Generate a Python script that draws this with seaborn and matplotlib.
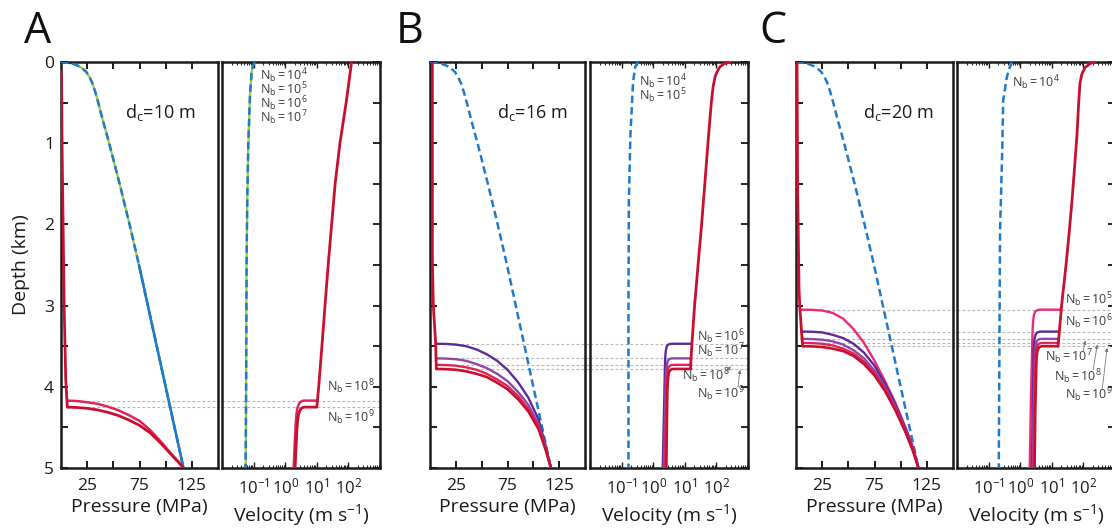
import numpy as np
import pandas as pd
import matplotlib
matplotlib.use("Agg")
import matplotlib.pyplot as plt
from matplotlib.ticker import NullLocator, FixedLocator, LogLocator
import seaborn as sns

# ---------------------------------------------------------------- data
# Pressure (MPa) vs depth (km) of the runs that do not fragment (low N_b)
blue_depth = [0, 0.005, 0.012, 0.025, 0.045, 0.075, 0.12, 0.18, 0.26, 0.38, 0.52, 0.72,
              1.0, 1.5, 2.0, 2.5, 3.0, 3.5, 4.0, 4.5, 5.0]
blue_pressure = [0, 4, 8, 12, 16, 20, 24, 27, 30, 33, 36, 40,
                 46, 56, 65.5, 74.5, 83, 91.5, 100, 108.5, 117]

# Ascent velocity (m/s) of the non-fragmenting runs
blue_vel_depth_a = [0, 0.05, 0.12, 0.4, 1.0, 1.7, 2.5, 4.0, 5.0]
blue_vel_a = [0.11, 0.095, 0.087, 0.077, 0.068, 0.063, 0.060, 0.058, 0.056]
blue_vel_depth_b = [0, 0.06, 0.25, 0.9, 1.7, 3.0, 5.0]
blue_vel_b = [0.33, 0.27, 0.23, 0.19, 0.17, 0.165, 0.165]
blue_vel_depth_c = [0, 0.08, 0.18, 0.47, 1.08, 2.1, 3.5, 5.0]
blue_vel_c = [0.55, 0.45, 0.38, 0.29, 0.27, 0.23, 0.22, 0.21]

# Shallow (above fragmentation) pressure shared by the fragmenting runs
red_p_depth_a = [0.12, 1, 2, 3, 3.9, 4.25]
red_p_a = [0.5, 1, 2, 3, 4.5, 6]
red_p_depth_b = [0, 1, 2.44, 3.0, 3.47, 3.78]
red_p_b = [2.3, 2.3, 2.3, 3.2, 5.5, 6.1]
red_p_depth_c = [0, 1.5, 2.8, 3.05, 3.5]
red_p_c = [1, 1.5, 2.9, 3.8, 6.3]

# Shallow (above fragmentation) velocity shared by the fragmenting runs
red_v_depth_a = [0, 0.5, 1, 1.5, 2, 2.5, 3, 3.5, 4, 4.25]
red_v_a = [126, 85, 54, 38, 29.5, 22.9, 18.2, 14.5, 11.5, 10]
red_v_depth_b = [0, 0.02, 0.06, 0.12, 0.18, 0.3, 0.5, 1.0, 1.5, 2.0, 2.5, 3.0, 3.5, 3.78]
red_v_b = [282, 178, 129, 105, 91, 79, 69, 54, 43, 34, 26.3, 20.4, 16.6, 15.1]
red_v_depth_c = [0, 0.02, 0.07, 0.15, 0.26, 0.5, 0.88, 1.3, 1.7, 2.1, 2.5, 3.0, 3.5]
red_v_c = [224, 162, 112, 89, 78, 71, 63, 52.5, 43.7, 35.5, 28.2, 20.4, 15.8]

# Deep (below fragmentation) pressure branches; pressures sampled on a common set
p_grid = [15, 25, 35, 45, 55, 65, 75, 85, 95, 105, 112, 117]

# panel A (d_c = 10 m): start pressure, then depths on p_grid
a_p0_8, a_d8 = 5.9, [4.17, 4.175, 4.19, 4.21, 4.245, 4.29, 4.35, 4.42, 4.53, 4.67, 4.82, 4.92, 5.0]
a_p0_9, a_d9 = 6.0, [4.25, 4.255, 4.265, 4.285, 4.315, 4.355, 4.41, 4.475, 4.565, 4.69, 4.83, 4.925, 5.0]

# panel B (d_c = 16 m)
b_p0_6, b_d6 = 5.5, [3.47, 3.472, 3.48, 3.50, 3.54, 3.60, 3.68, 3.79, 3.94, 4.13, 4.40, 4.73, 5.0]
b_p0_7, b_d7 = 5.8, [3.65, 3.652, 3.66, 3.68, 3.72, 3.77, 3.84, 3.93, 4.06, 4.22, 4.46, 4.75, 5.0]
b_p0_8, b_d8 = 6.0, [3.73, 3.732, 3.74, 3.76, 3.79, 3.84, 3.91, 3.99, 4.11, 4.27, 4.49, 4.76, 5.0]
b_p0_9, b_d9 = 6.1, [3.78, 3.782, 3.79, 3.81, 3.84, 3.88, 3.95, 4.03, 4.15, 4.30, 4.52, 4.78, 5.0]

# panel C (d_c = 20 m)
c_p0_5, c_d5 = 3.8, [3.05, 3.052, 3.06, 3.09, 3.16, 3.29, 3.46, 3.68, 3.93, 4.20, 4.51, 4.75, 5.0]
c_p0_6, c_d6 = 4.8, [3.32, 3.322, 3.33, 3.36, 3.40, 3.47, 3.58, 3.74, 3.96, 4.22, 4.53, 4.77, 5.0]
c_p0_7, c_d7 = 5.5, [3.41, 3.412, 3.42, 3.44, 3.48, 3.55, 3.65, 3.80, 4.00, 4.25, 4.55, 4.78, 5.0]
c_p0_8, c_d8 = 6.0, [3.46, 3.462, 3.47, 3.49, 3.53, 3.59, 3.69, 3.83, 4.03, 4.27, 4.56, 4.79, 5.0]
c_p0_9, c_d9 = 6.3, [3.50, 3.502, 3.51, 3.53, 3.56, 3.62, 3.72, 3.86, 4.05, 4.29, 4.57, 4.80, 5.0]

# Deep velocity branches (m/s) and their depths (km)
a_v8 = [10, 4.2, 3.6, 3.2, 2.9, 2.65, 2.45, 2.3, 2.15, 2.0, 1.85]
a_vd8 = [4.17, 4.17, 4.172, 4.18, 4.195, 4.22, 4.26, 4.32, 4.45, 4.7, 5.0]
a_v9 = [9.5, 4.4, 3.8, 3.4, 3.1, 2.85, 2.65, 2.5, 2.35, 2.2, 2.05]
a_vd9 = [4.25, 4.25, 4.252, 4.26, 4.275, 4.30, 4.34, 4.40, 4.52, 4.75, 5.0]

b_v6 = [16.7, 4.0, 3.4, 3.0, 2.75, 2.6, 2.5, 2.42, 2.35, 2.2, 2.0]
b_vd6 = [3.47, 3.47, 3.472, 3.48, 3.495, 3.52, 3.56, 3.62, 3.75, 4.3, 5.0]
b_v7 = [16.2, 4.2, 3.6, 3.2, 2.95, 2.8, 2.7, 2.6, 2.5, 2.35, 2.15]
b_vd7 = [3.65, 3.65, 3.652, 3.66, 3.675, 3.70, 3.74, 3.80, 3.93, 4.4, 5.0]
b_v8 = [16.0, 4.4, 3.8, 3.4, 3.1, 2.95, 2.85, 2.75, 2.65, 2.5, 2.35]
b_vd8 = [3.73, 3.73, 3.732, 3.74, 3.755, 3.78, 3.82, 3.88, 4.01, 4.45, 5.0]
b_v9 = [15.8, 4.6, 4.0, 3.6, 3.3, 3.1, 3.0, 2.9, 2.8, 2.7, 2.6]
b_vd9 = [3.78, 3.78, 3.782, 3.79, 3.805, 3.83, 3.87, 3.93, 4.06, 4.5, 5.0]

c_v5 = [20, 4.4, 3.8, 3.3, 3.0, 2.8, 2.65, 2.55, 2.45, 2.2, 2.0]
c_vd5 = [3.05, 3.05, 3.052, 3.06, 3.075, 3.10, 3.14, 3.20, 3.33, 4.1, 5.0]
c_v6 = [17.5, 4.6, 4.0, 3.5, 3.2, 3.0, 2.85, 2.75, 2.65, 2.5, 2.35]
c_vd6 = [3.32, 3.32, 3.322, 3.33, 3.345, 3.37, 3.41, 3.47, 3.60, 4.3, 5.0]
c_v7 = [16.6, 4.8, 4.2, 3.7, 3.4, 3.2, 3.05, 2.95, 2.85, 2.65, 2.5]
c_vd7 = [3.41, 3.41, 3.412, 3.42, 3.435, 3.46, 3.50, 3.56, 3.69, 4.3, 5.0]
c_v8 = [16.1, 5.0, 4.4, 3.9, 3.6, 3.4, 3.25, 3.1, 3.0, 2.8, 2.65]
c_vd8 = [3.46, 3.46, 3.462, 3.47, 3.485, 3.51, 3.55, 3.61, 3.74, 4.3, 5.0]
c_v9 = [15.8, 5.2, 4.6, 4.1, 3.8, 3.55, 3.4, 3.3, 3.2, 3.0, 2.85]
c_vd9 = [3.50, 3.50, 3.502, 3.51, 3.525, 3.55, 3.59, 3.65, 3.78, 4.3, 5.0]

panel_letters = ["A", "B", "C"]
critical_sizes = ["10", "16", "20"]
pressure_ticks = [25, 50, 75, 100, 125]
pressure_ticklabels = ["25", "", "75", "", "125"]
velocity_ticks = [1e-2, 1e-1, 1e0, 1e1, 1e2, 1e3]
velocity_ticklabels = ["", r"$\mathregular{10^{-1}}$", r"$\mathregular{10^{0}}$",
                       r"$\mathregular{10^{1}}$", r"$\mathregular{10^{2}}$", ""]
depth_ticks = [0, 0.5, 1, 1.5, 2, 2.5, 3, 3.5, 4, 4.5, 5]
depth_ticklabels = ["0", "", "1", "", "2", "", "3", "", "4", "", "5"]

# ---------------------------------------------------------------- style
sns.set_style("white")
plt.rcParams["font.family"] = ["Open Sans", "DejaVu Sans"]
plt.rcParams["mathtext.fontset"] = "custom"
plt.rcParams["mathtext.rm"] = "Open Sans"
plt.rcParams["mathtext.it"] = "Open Sans:italic"
plt.rcParams["mathtext.bf"] = "Open Sans:bold"
plt.rcParams["axes.edgecolor"] = "#1a1a1a"
plt.rcParams["axes.linewidth"] = 1.8

BLUE = "#1f7ac8"
GREEN = "#9ccc3c"
C5 = "#f0287a"
C6 = "#5e2a96"
C7 = "#8c48a8"
C8 = "#de2558"
C9 = "#c8102e"
GRID = "#b4b4b4"
LABEL = "#3c3c3c"
INK = "#1a1a1a"

W, H = 1112, 529
fig = plt.figure(figsize=(W / 100, H / 100), dpi=100)
fig.patch.set_facecolor("white")


def px_axes(x0, x1):
    return fig.add_axes([x0 / W, (H - 468) / H, (x1 - x0) / W, 406 / H])


def curve(ax, x, y, color, lw=1.7, ls="-", z=3):
    df = pd.DataFrame({"x": x, "y": y})
    sns.lineplot(data=df, x="x", y="y", sort=False, estimator=None, color=color,
                 linewidth=lw, linestyle=ls, ax=ax, zorder=z, legend=False)


def branch(ax, p0, depths, color, lw=1.7):
    curve(ax, [p0] + p_grid, depths, color, lw=lw)


DASH = (0, (3.0, 1.6))


def style_pressure(ax, first):
    ax.set_xlim(0, 150)
    ax.set_ylim(5, 0)
    ax.set_xticks(pressure_ticks)
    ax.set_xticklabels(pressure_ticklabels)
    ax.set_yticks(depth_ticks)
    ax.set_yticklabels(depth_ticklabels if first else [""] * len(depth_ticks))
    ax.tick_params(axis="x", direction="in", top=True, bottom=True, length=5, width=1.4,
                   labelsize=12.5, pad=7, colors=INK)
    ax.tick_params(axis="y", direction="in", left=True, right=False, length=5, width=1.4,
                   labelsize=12.5, pad=5, colors=INK)
    ax.set_xlabel("Pressure (MPa)", fontsize=14, labelpad=3, color=INK)
    if first:
        ax.set_ylabel("Depth (km)", fontsize=14, labelpad=10, color=INK)
    else:
        ax.set_ylabel("")


def style_velocity(ax):
    ax.set_xscale("log")
    ax.set_xlim(1e-2, 1e3)
    ax.set_ylim(5, 0)
    ax.xaxis.set_major_locator(FixedLocator(velocity_ticks))
    ax.set_xticklabels(velocity_ticklabels)
    ax.xaxis.set_minor_locator(LogLocator(base=10, subs=np.arange(2, 10), numticks=20))
    ax.set_yticks(depth_ticks)
    ax.yaxis.set_minor_locator(NullLocator())
    ax.tick_params(axis="x", which="major", direction="in", top=True, bottom=True,
                   length=4, width=1.0, labelsize=12, pad=7, colors=INK)
    ax.tick_params(axis="x", which="minor", direction="in", top=True, bottom=True,
                   length=2.5, width=0.8)
    ax.tick_params(axis="y", direction="in", left=False, right=True, labelleft=False,
                   labelright=False, length=5, width=1.4)
    ax.set_xlabel(r"Velocity (m s$^{\mathregular{-1}}$)", fontsize=14, labelpad=3, color=INK)
    ax.set_ylabel("")


def nb(ax, x, y, exps, ha="left"):
    text = "\n".join(r"$\mathregular{N_b=10^{%s}}$" % e for e in exps)
    ax.text(x, y, text, fontsize=9, color=LABEL, ha=ha, va="center", zorder=6,
            clip_on=False, linespacing=0.66)


def arrow(ax, tail, tip):
    ax.annotate("", xy=tip, xytext=tail,
                arrowprops=dict(arrowstyle="-|>", color="#7a7a7a", lw=0.6,
                                mutation_scale=5, shrinkA=0, shrinkB=0), zorder=6)


def transition_lines(axp, axv, depths, right_edge=1e3):
    for d in depths:
        axp.plot([6, 154], [d, d], color=GRID, lw=0.8, ls=(0, (2.5, 2)), zorder=1, clip_on=False)
        axv.plot([1e-2, right_edge], [d, d], color=GRID, lw=0.8, ls=(0, (2.5, 2)), zorder=1,
                 clip_on=False)


axes_px = [(61, 218, 222, 380), (430, 585, 590, 748), (796, 953, 957, 1115)]
pairs = []
for (p0, p1, v0, v1) in axes_px:
    axp = px_axes(p0, p1)
    axv = px_axes(v0, v1)
    axv.set_xscale("log")
    pairs.append((axp, axv))

# ---------------------------------------------------------------- panel A
axp, axv = pairs[0]
transition_lines(axp, axv, [a_d8[0], a_d9[0]])
curve(axp, blue_pressure, blue_depth, GREEN, lw=1.6, z=2)
curve(axp, blue_pressure, blue_depth, BLUE, lw=1.8, ls=DASH, z=3)
curve(axp, blue_pressure[15:], blue_depth[15:], BLUE, lw=1.8, z=3)
branch(axp, a_p0_8, a_d8, C8, lw=1.8)
branch(axp, a_p0_9, a_d9, C9, lw=2.0)
curve(axp, red_p_a, red_p_depth_a, C9, lw=2.0, z=4)
curve(axv, blue_vel_a, blue_vel_depth_a, GREEN, lw=1.6, z=2)
curve(axv, blue_vel_a, blue_vel_depth_a, BLUE, lw=1.8, ls=DASH, z=3)
curve(axv, a_v8, a_vd8, C8, lw=1.8)
curve(axv, a_v9, a_vd9, C9, lw=2.0)
curve(axv, red_v_a, red_v_depth_a, C9, lw=2.0, z=4)
nb(axv, 0.16, 0.43, ["4", "5", "6", "7"])
nb(axv, 21, 4.0, ["8"])
nb(axv, 21, 4.38, ["9"])

# ---------------------------------------------------------------- panel B
axp, axv = pairs[1]
transition_lines(axp, axv, [b_d6[0], b_d7[0], b_d8[0], b_d9[0]])
curve(axp, blue_pressure, blue_depth, BLUE, lw=1.8, ls=DASH)
for p0, dd, col in [(b_p0_6, b_d6, C6), (b_p0_7, b_d7, C7), (b_p0_8, b_d8, C8), (b_p0_9, b_d9, C9)]:
    branch(axp, p0, dd, col, lw=1.9 if col == C9 else 1.7)
curve(axp, red_p_b, red_p_depth_b, C9, lw=2.0, z=4)
curve(axv, blue_vel_b, blue_vel_depth_b, BLUE, lw=1.8, ls=DASH)
for vx, vd, col in [(b_v6, b_vd6, C6), (b_v7, b_vd7, C7), (b_v8, b_vd8, C8), (b_v9, b_vd9, C9)]:
    curve(axv, vx, vd, col, lw=1.9 if col == C9 else 1.7)
curve(axv, red_v_b, red_v_depth_b, C9, lw=2.0, z=4)
nb(axv, 0.355, 0.33, ["4", "5"])
nb(axv, 24.5, 3.465, ["6", "7"])
nb(axv, 8.1, 3.86, ["8"])
nb(axv, 24.5, 4.09, ["9"])
arrow(axv, (215, 3.82), (280, 3.745))
arrow(axv, (480, 4.0), (560, 3.79))

# ---------------------------------------------------------------- panel C
axp, axv = pairs[2]
transition_lines(axp, axv, [c_d5[0], c_d6[0], c_d7[0], c_d8[0], c_d9[0]])
curve(axp, blue_pressure, blue_depth, BLUE, lw=1.8, ls=DASH)
for p0, dd, col in [(c_p0_5, c_d5, C5), (c_p0_6, c_d6, C6), (c_p0_7, c_d7, C7),
                    (c_p0_8, c_d8, C8), (c_p0_9, c_d9, C9)]:
    branch(axp, p0, dd, col, lw=1.9 if col == C9 else 1.7)
curve(axp, red_p_c, red_p_depth_c, C9, lw=2.0, z=4)
curve(axv, blue_vel_c, blue_vel_depth_c, BLUE, lw=1.8, ls=DASH)
for vx, vd, col in [(c_v5, c_vd5, C5), (c_v6, c_vd6, C6), (c_v7, c_vd7, C7),
                    (c_v8, c_vd8, C8), (c_v9, c_vd9, C9)]:
    curve(axv, vx, vd, col, lw=1.9 if col == C9 else 1.7)
curve(axv, red_v_c, red_v_depth_c, C9, lw=2.0, z=4)
nb(axv, 0.55, 0.25, ["4"])
nb(axv, 26, 2.93, ["5"])
nb(axv, 26, 3.20, ["6"])
nb(axv, 6.0, 3.63, ["7"])
nb(axv, 11.5, 3.87, ["8"])
nb(axv, 26, 4.10, ["9"])
arrow(axv, (98, 3.57), (115, 3.43))
arrow(axv, (204, 3.79), (275, 3.48))
arrow(axv, (398, 4.02), (562, 3.52))

# ---------------------------------------------------------------- shared decoration
for i, (axp, axv) in enumerate(pairs):
    style_pressure(axp, i == 0)
    style_velocity(axv)
    axp.text([95, 99, 98][i], 0.62, r"$\mathregular{d_c}$=%s m" % critical_sizes[i],
             fontsize=13, color=INK, ha="center", va="center")
    for ax in (axp, axv):
        ax.set_facecolor("white")
        for s in ax.spines.values():
            s.set_linewidth(1.8)

for x, letter in zip([38, 410, 773], panel_letters):
    fig.text(x / W, 1 - 32 / H, letter, fontsize=31, ha="center", va="center", color="#111111")

fig.savefig("out.png", dpi=100, facecolor="white")
